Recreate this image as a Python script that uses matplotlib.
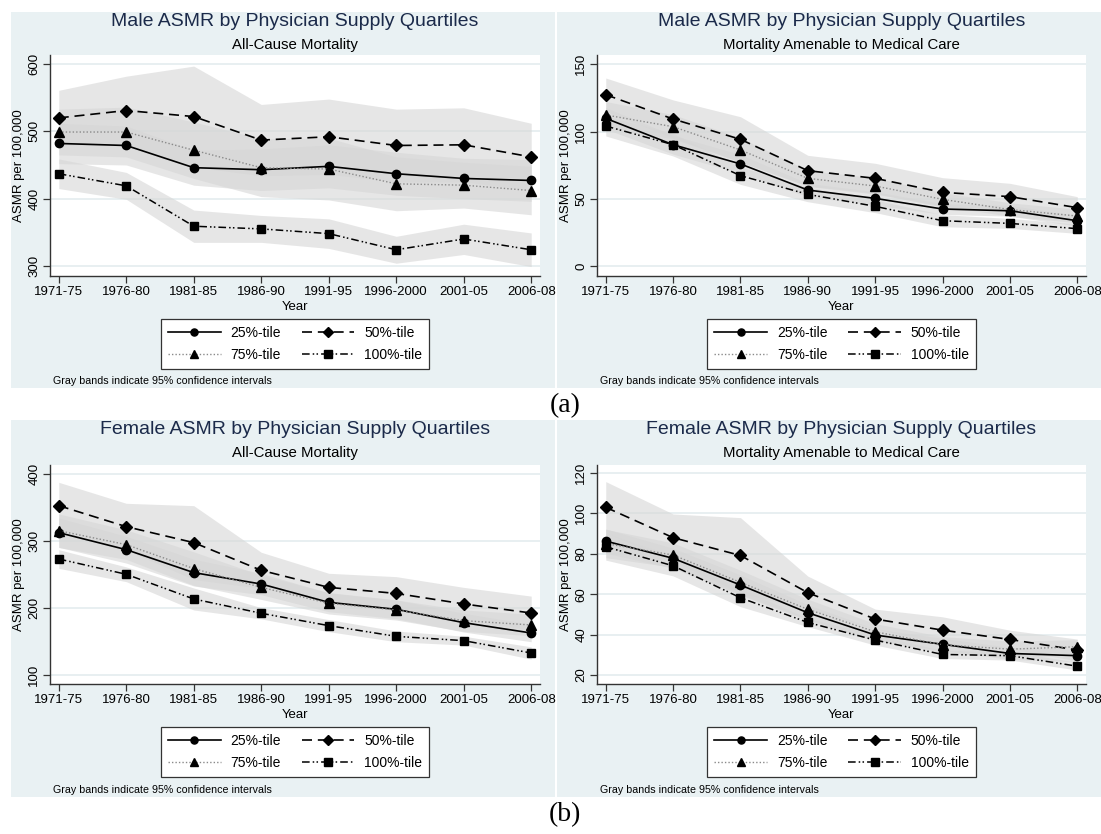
import matplotlib
matplotlib.use('Agg')
import matplotlib.pyplot as plt
from matplotlib.patches import Rectangle

periods = ['1971-75', '1976-80', '1981-85', '1986-90', '1991-95', '1996-2000', '2001-05', '2006-08']
series_labels = ['25%-tile', '50%-tile', '75%-tile', '100%-tile']

# ---- Male, all-cause ----
male_all_p25 = [482, 479, 446, 443, 448, 437, 430, 427]
male_all_p25_lo = [452, 450, 420, 412, 416, 405, 400, 396]
male_all_p25_hi = [512, 508, 472, 474, 480, 469, 460, 458]
male_all_p50 = [520, 531, 522, 487, 492, 479, 480, 462]
male_all_p50_lo = [479, 480, 447, 434, 436, 425, 425, 412]
male_all_p50_hi = [561, 582, 597, 540, 548, 533, 535, 512]
male_all_p75 = [499, 499, 472, 446, 444, 422, 420, 412]
male_all_p75_lo = [465, 462, 430, 403, 398, 382, 386, 376]
male_all_p75_hi = [533, 536, 514, 489, 490, 462, 454, 448]
male_all_p100 = [437, 419, 359, 355, 348, 324, 340, 324]
male_all_p100_lo = [415, 399, 335, 335, 326, 304, 317, 299]
male_all_p100_hi = [459, 439, 383, 375, 370, 344, 362, 349]

# ---- Male, amenable ----
male_am_p25 = [109.8, 90.2, 75.9, 56.5, 50.3, 42.4, 41.1, 33.7]
male_am_p25_lo = [101.8, 83.2, 68.9, 51.5, 45.3, 38.4, 37.1, 29.7]
male_am_p25_hi = [117.8, 97.2, 82.9, 61.5, 55.3, 46.4, 45.1, 37.7]
male_am_p50 = [127.4, 109.3, 94.2, 70.9, 65.2, 54.8, 51.6, 43.4]
male_am_p50_lo = [115.0, 95.1, 77.4, 59.5, 54.0, 43.9, 41.7, 35.2]
male_am_p50_hi = [139.8, 123.5, 111.0, 82.3, 76.4, 65.7, 61.5, 51.6]
male_am_p75 = [112.3, 103.6, 86.3, 65.2, 59.5, 49.6, 42.0, 37.2]
male_am_p75_lo = [102.3, 94.6, 77.3, 59.2, 53.5, 44.6, 37.0, 32.2]
male_am_p75_hi = [122.3, 112.6, 95.3, 71.2, 65.5, 54.6, 47.0, 42.2]
male_am_p100 = [104.1, 90.2, 67.2, 53.3, 44.4, 33.7, 31.7, 27.8]
male_am_p100_lo = [96.7, 81.8, 60.7, 47.8, 39.7, 29.2, 28.0, 24.3]
male_am_p100_hi = [111.5, 98.6, 73.7, 58.8, 49.1, 38.2, 35.4, 31.3]

# ---- Female, all-cause ----
fem_all_p25 = [312.6, 287.2, 253.0, 236.0, 208.7, 198.3, 178.4, 163.0]
fem_all_p25_lo = [290.6, 267.2, 233.0, 220.0, 194.7, 184.3, 164.4, 150.0]
fem_all_p25_hi = [334.6, 307.2, 273.0, 252.0, 222.7, 212.3, 192.4, 176.0]
fem_all_p50 = [352.8, 321.5, 297.7, 256.4, 231.0, 222.0, 206.3, 192.8]
fem_all_p50_lo = [318.0, 286.7, 242.6, 229.5, 210.0, 197.0, 181.6, 167.6]
fem_all_p50_hi = [387.6, 356.3, 352.8, 283.3, 252.0, 247.0, 231.0, 218.0]
fem_all_p75 = [315.5, 294.7, 259.0, 231.0, 207.3, 197.3, 181.4, 175.0]
fem_all_p75_lo = [290.5, 272.7, 234.0, 213.0, 191.3, 182.3, 165.4, 159.0]
fem_all_p75_hi = [340.5, 316.7, 284.0, 249.0, 223.3, 212.3, 197.4, 191.0]
fem_all_p100 = [273.3, 250.5, 213.7, 192.4, 174.0, 158.0, 151.6, 133.2]
fem_all_p100_lo = [259.4, 239.5, 197.3, 184.0, 165.0, 150.0, 145.0, 124.0]
fem_all_p100_hi = [287.2, 261.5, 230.1, 200.8, 183.0, 166.0, 158.2, 142.4]

# ---- Female, amenable ----
fem_am_p25 = [86.2, 77.7, 64.5, 50.8, 39.8, 35.2, 30.7, 29.6]
fem_am_p25_lo = [80.2, 72.7, 59.5, 46.8, 36.8, 32.2, 27.7, 26.6]
fem_am_p25_hi = [92.2, 82.7, 69.5, 54.8, 42.8, 38.2, 33.7, 32.6]
fem_am_p50 = [102.9, 87.9, 79.1, 60.7, 47.7, 42.2, 37.6, 32.4]
fem_am_p50_lo = [90.2, 76.2, 60.4, 52.5, 42.8, 35.6, 33.0, 27.0]
fem_am_p50_hi = [115.6, 99.6, 97.8, 68.9, 52.6, 48.8, 42.2, 37.8]
fem_am_p75 = [85.0, 79.3, 65.8, 52.5, 41.4, 35.0, 32.8, 34.0]
fem_am_p75_lo = [78.0, 73.3, 59.8, 47.5, 37.4, 31.0, 28.8, 30.0]
fem_am_p75_hi = [92.0, 85.3, 71.8, 57.5, 45.4, 39.0, 36.8, 37.5]
fem_am_p100 = [83.4, 74.0, 58.2, 46.0, 37.3, 30.2, 29.6, 24.4]
fem_am_p100_lo = [76.8, 69.0, 53.8, 43.9, 34.8, 28.2, 27.4, 22.5]
fem_am_p100_hi = [90.0, 79.0, 62.6, 48.1, 39.8, 32.2, 31.8, 26.3]

male_all_yticks = [300, 400, 500, 600]
male_am_yticks = [0, 50, 100, 150]
fem_all_yticks = [100, 200, 300, 400]
fem_am_yticks = [20, 40, 60, 80, 100, 120]

# ---------------- styling ----------------
plt.rcParams['font.family'] = ['Liberation Sans', 'DejaVu Sans']
W, H = 1101, 834
BG = '#e9f1f3'
GRID = '#e4ecef'
TITLE_C = '#1b2a4a'
BAND_C = '#d6d6d6'
BAND_A = 0.6

styles = [
    dict(color='black', lw=1.2, ls='-', marker='o', ms=6),
    dict(color='black', lw=1.2, ls=(0, (6, 3.5)), marker='D', ms=6),
    dict(color='#8a8a8a', lw=1.0, ls=(0, (1, 1.5)), marker='^', ms=6.5, mfc='black', mec='black'),
    dict(color='black', lw=1.1, ls=(0, (5, 2, 1, 1.5, 1, 2)), marker='s', ms=6),
]

fig = plt.figure(figsize=(W / 100, H / 100), dpi=100)


def fbox(x0, y0, x1, y1):
    return [x0 / W, 1 - y1 / H, (x1 - x0) / W, (y1 - y0) / H]


def panel(pbox, abox, title, subtitle, means, los, his, ylim, yticks):
    px0, py0, px1, py1 = pbox
    fig.patches.append(Rectangle((px0 / W, 1 - py1 / H), (px1 - px0) / W, (py1 - py0) / H,
                                 transform=fig.transFigure, facecolor=BG, edgecolor='none', zorder=-5))
    ax = fig.add_axes(fbox(*abox))
    ax.set_zorder(2)
    x = list(range(len(periods)))
    for lo, hi in zip(los, his):
        ax.fill_between(x, lo, hi, color=BAND_C, alpha=BAND_A, lw=0, zorder=1)
    handles = []
    for m, st in zip(means, styles):
        st = dict(st)
        mfc = st.pop('mfc', 'black')
        mec = st.pop('mec', 'black')
        ln, = ax.plot(x, m, color=st['color'], lw=st['lw'], ls=st['ls'], marker=st['marker'],
                      ms=st['ms'], mfc=mfc, mec=mec, zorder=3)
        handles.append(ln)
    ax.set_xlim(-0.13, len(periods) - 1 + 0.13)
    ax.set_ylim(*ylim)
    ax.set_yticks(yticks)
    ax.set_xticks(x)
    ax.set_xticklabels(periods, fontsize=9.5)
    ax.set_yticklabels([str(t) for t in yticks], fontsize=9.5, rotation=90, va='center')
    for t in yticks:
        ax.axhline(t, color=GRID, lw=1.2, zorder=0.5)
    for s in ['top', 'right']:
        ax.spines[s].set_visible(False)
    for s in ['left', 'bottom']:
        ax.spines[s].set_color('#333333')
        ax.spines[s].set_linewidth(1.0)
    ax.tick_params(direction='out', length=5, width=0.9, color='#333333', pad=2)
    ax.set_xlabel('Year', fontsize=9.5, labelpad=2)
    ax.set_ylabel('ASMR per 100,000', fontsize=9.5, labelpad=2)
    cx = (abox[0] + abox[2]) / 2
    fig.text(cx / W, 1 - (py0 + 10) / H, title, ha='center', va='center', fontsize=14, color=TITLE_C)
    fig.text(cx / W, 1 - (py0 + 33) / H, subtitle, ha='center', va='center', fontsize=10.8, color='black')
    order = [0, 2, 1, 3]
    leg = ax.legend([handles[i] for i in order], [series_labels[i] for i in order], ncol=2,
                    loc='center', bbox_to_anchor=(cx / W, 1 - (abox[3] + 68) / H),
                    bbox_transform=fig.transFigure, frameon=True, fancybox=False, framealpha=1,
                    facecolor='white', edgecolor='#333333', fontsize=10, handlelength=3.8,
                    handletextpad=0.7, columnspacing=1.5, borderpad=0.5, labelspacing=0.6,
                    markerscale=0.85)
    leg.get_frame().set_linewidth(0.9)
    fig.text((abox[0] + 3) / W, 1 - (py1 - 7) / H, 'Gray bands indicate 95% confidence intervals',
             ha='left', va='center', fontsize=7.7)
    return ax


panel((11, 12, 555, 388), (50, 55, 540, 276), 'Male ASMR by Physician Supply Quartiles',
      'All-Cause Mortality',
      [male_all_p25, male_all_p50, male_all_p75, male_all_p100],
      [male_all_p25_lo, male_all_p50_lo, male_all_p75_lo, male_all_p100_lo],
      [male_all_p25_hi, male_all_p50_hi, male_all_p75_hi, male_all_p100_hi],
      (285, 613.5), male_all_yticks)
panel((557, 12, 1101, 388), (597, 55, 1086, 276), 'Male ASMR by Physician Supply Quartiles',
      'Mortality Amenable to Medical Care',
      [male_am_p25, male_am_p50, male_am_p75, male_am_p100],
      [male_am_p25_lo, male_am_p50_lo, male_am_p75_lo, male_am_p100_lo],
      [male_am_p25_hi, male_am_p50_hi, male_am_p75_hi, male_am_p100_hi],
      (-7.4, 156.9), male_am_yticks)
panel((11, 420, 555, 797), (50, 465, 540, 684), 'Female ASMR by Physician Supply Quartiles',
      'All-Cause Mortality',
      [fem_all_p25, fem_all_p50, fem_all_p75, fem_all_p100],
      [fem_all_p25_lo, fem_all_p50_lo, fem_all_p75_lo, fem_all_p100_lo],
      [fem_all_p25_hi, fem_all_p50_hi, fem_all_p75_hi, fem_all_p100_hi],
      (87, 413.4), fem_all_yticks)
panel((557, 420, 1101, 797), (597, 465, 1086, 684), 'Female ASMR by Physician Supply Quartiles',
      'Mortality Amenable to Medical Care',
      [fem_am_p25, fem_am_p50, fem_am_p75, fem_am_p100],
      [fem_am_p25_lo, fem_am_p50_lo, fem_am_p75_lo, fem_am_p100_lo],
      [fem_am_p25_hi, fem_am_p50_hi, fem_am_p75_hi, fem_am_p100_hi],
      (15.6, 123.8), fem_am_yticks)

fig.text(565 / W, 1 - 406 / H, '(a)', ha='center', va='center', fontsize=20, family='Liberation Serif')
fig.text(565 / W, 1 - 815 / H, '(b)', ha='center', va='center', fontsize=20, family='Liberation Serif')

fig.savefig('out.png', dpi=100, facecolor='white')
